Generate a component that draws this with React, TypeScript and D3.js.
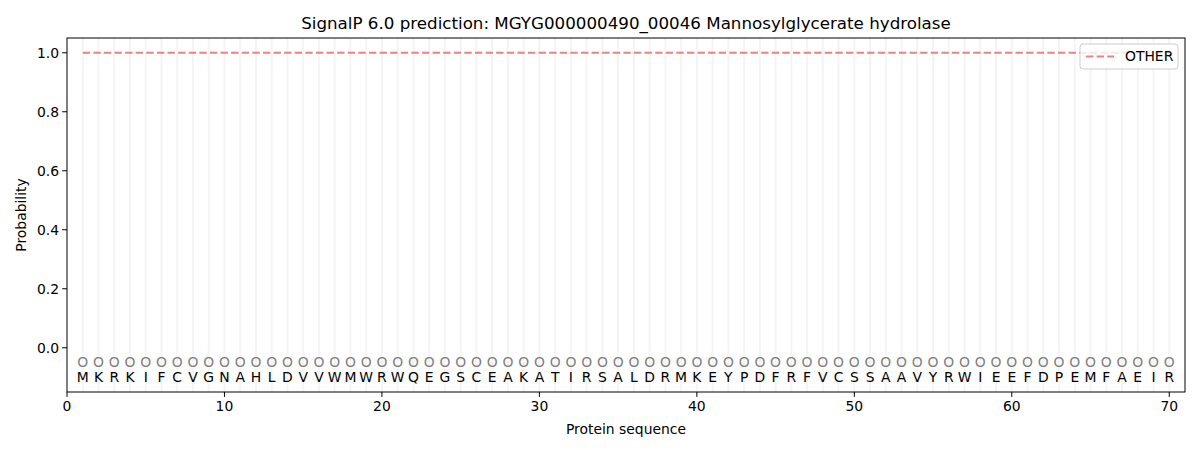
import React from 'react';
import * as d3 from 'd3';

const sequence = 'MKRKIFCVGNAHLDVVWMWRWQEGSCEAKATIRSALDRMKEYPDFRFVCSSAAVYRWIEEFDPEMFAEIR'.split('');
const positions = sequence.map((_, i) => i + 1);
const otherProb = sequence.map(() => 1.0);
const xTicks = [0, 10, 20, 30, 40, 50, 60, 70];
const yTicks = [0.0, 0.2, 0.4, 0.6, 0.8, 1.0];

const W = 1200;
const H = 450;
const margin = { top: 38, right: 15, bottom: 58, left: 67 };

const App: React.FC = () => {
  const x = d3.scaleLinear().domain([0, 71]).range([margin.left, W - margin.right]);
  const y = d3.scaleLinear().domain([-0.15, 1.05]).range([H - margin.bottom, margin.top]);

  const line = d3.line<number>()
    .x((_, i) => x(positions[i]))
    .y((d) => y(d));

  const font = 'DejaVu Sans, sans-serif';
  const x0 = x.range()[0];
  const x1 = x.range()[1];
  const y0 = y.range()[0];
  const y1 = y.range()[1];

  return (
    <svg width={W} height={H} style={{ position: 'absolute', left: 0, top: 0, fontFamily: font }}>
      <rect width={W} height={H} fill="#fff" />
      {/* residue grid */}
      {positions.map((p) => (
        <line key={p} x1={x(p)} x2={x(p)} y1={y1} y2={y0} stroke="#f4f4f4" strokeWidth={2} />
      ))}
      <path d={line(otherProb) || ''} fill="none" stroke="#f08080" strokeWidth={2} strokeDasharray="7.4,3.2" />
      {/* residue markers and letters */}
      {positions.map((p, i) => (
        <g key={'r' + p}>
          <text x={x(p)} y={y(-0.05)} dy="0.35em" textAnchor="middle" fontSize={13.9} fill="#808080">O</text>
          <text x={x(p)} y={y(-0.1)} dy="0.35em" textAnchor="middle" fontSize={13.9} fill="#000">{sequence[i]}</text>
        </g>
      ))}
      <rect x={x0} y={y1} width={x1 - x0} height={y0 - y1} fill="none" stroke="#000" strokeWidth={1} />
      {/* x axis */}
      {xTicks.map((t) => (
        <g key={'x' + t}>
          <line x1={x(t)} x2={x(t)} y1={y0} y2={y0 + 4.9} stroke="#000" />
          <text x={x(t)} y={y0 + 8} dy="0.76em" textAnchor="middle" fontSize={13.9}>{t}</text>
        </g>
      ))}
      <text x={(x0 + x1) / 2} y={H - 16} textAnchor="middle" fontSize={13.9}>Protein sequence</text>
      {/* y axis */}
      {yTicks.map((t) => (
        <g key={'y' + t}>
          <line x1={x0 - 4.9} x2={x0} y1={y(t)} y2={y(t)} stroke="#000" />
          <text x={x0 - 8} y={y(t)} dy="0.35em" textAnchor="end" fontSize={13.9}>{t.toFixed(1)}</text>
        </g>
      ))}
      <text transform={`translate(26,${(y0 + y1) / 2}) rotate(-90)`} textAnchor="middle" fontSize={13.9}>Probability</text>
      <text x={(x0 + x1) / 2} y={29} textAnchor="middle" fontSize={16.7}>SignalP 6.0 prediction: MGYG000000490_00046 Mannosylglycerate hydrolase</text>
      {/* legend */}
      <g transform={`translate(${x1 - 105},${y1 + 6})`}>
        <rect width={98} height={25} rx={3} fill="#fff" fillOpacity={0.8} stroke="#cccccc" />
        <line x1={6} x2={34} y1={12.5} y2={12.5} stroke="#f08080" strokeWidth={2} strokeDasharray="7.4,3.2" />
        <text x={45} y={12.5} dy="0.35em" fontSize={13.9}>OTHER</text>
      </g>
    </svg>
  );
};

export default App;
